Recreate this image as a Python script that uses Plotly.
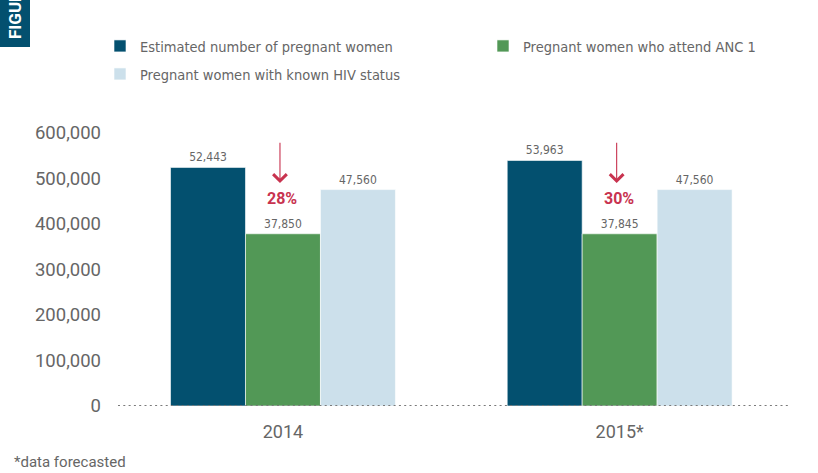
import plotly.graph_objects as go

categories = ["2014", "2015*"]
series_names = [
    "Estimated number of pregnant women",
    "Pregnant women who attend ANC 1",
    "Pregnant women with known HIV status",
]
estimated_heights = [524430, 539630]
anc1_heights = [378500, 378450]
hiv_known_heights = [475600, 475600]
estimated_labels = ["52,443", "53,963"]
anc1_labels = ["37,850", "37,845"]
hiv_known_labels = ["47,560", "47,560"]
gap_pct = ["28%", "30%"]
arrow_tip = [490000, 490000]
arrow_tail = [582000, 582000]
pct_y = [457000, 457000]
y_ticks = [0, 100000, 200000, 300000, 400000, 500000, 600000]
y_tick_text = ["0", "100,000", "200,000", "300,000", "400,000", "500,000", "600,000"]

colors = ["#03506F", "#529856", "#CCE0EB"]
GRAY = "#666666"
RED = "#C8334F"
NARROW = "Liberation Sans Narrow, DejaVu Sans Condensed, Arial Narrow, sans-serif"
MAIN = "Roboto, Arial, sans-serif"

fig = go.Figure()
for name, vals, labs, col, leg in zip(
    series_names,
    [estimated_heights, anc1_heights, hiv_known_heights],
    [estimated_labels, anc1_labels, hiv_known_labels],
    colors,
    ["legend", "legend3", "legend2"],
):
    fig.add_trace(go.Bar(
        x=categories, y=vals, name=name, text=labs,
        textposition="outside", cliponaxis=False,
        textfont=dict(family=NARROW, size=12, color=GRAY),
        marker=dict(color=col, line=dict(color="white", width=0.6)),
        legend=leg,
    ))

for i, (pct, tip, tail, py) in enumerate(zip(gap_pct, arrow_tip, arrow_tail, pct_y)):
    fig.add_annotation(
        x=i, y=tip, ax=i, ay=tail, xref="x", yref="y", axref="x", ayref="y",
        showarrow=True, arrowhead=4, arrowsize=2.4, arrowwidth=1.1, arrowcolor=RED,
        text="", xshift=-3,
    )
    fig.add_annotation(
        x=i, y=py, xref="x", yref="y", text="<b>%s</b>" % pct, showarrow=False,
        font=dict(family=MAIN, size=16, color=RED), xshift=-1,
    )

# dotted baseline
fig.add_shape(type="line", xref="paper", yref="y", x0=0, x1=1, y0=0, y1=0,
              line=dict(color="#7a7a7a", width=2, dash="2px,3.3px"), layer="above")

# figure tab at top-left
fig.add_shape(type="rect", xref="paper", yref="paper", x0=-118/670, x1=-88/670,
              y0=1 + (133 - 47) / 273, y1=1 + 133 / 273 + 0.1,
              fillcolor="#03506F", line=dict(width=0))
fig.add_annotation(text="<b>FIGURE 1</b>", xref="paper", yref="paper",
                   x=-103/670, y=1 + (133 - 41) / 273, xanchor="center", yanchor="bottom",
                   textangle=-90, showarrow=False,
                   font=dict(family=MAIN, size=17, color="white"))

fig.add_annotation(text="*data forecasted", xref="paper", yref="paper",
                   x=-106/670, y=-(462 - 406) / 273, xanchor="left", yanchor="middle",
                   showarrow=False, font=dict(family=MAIN, size=15, color=GRAY))

leg_font = dict(family=NARROW, size=14.5, color=GRAY)
fig.update_layout(
    width=818, height=473,
    margin=dict(l=118, r=30, t=133, b=67),
    plot_bgcolor="white", paper_bgcolor="white",
    barmode="group", bargap=0.332, bargroupgap=0,
    showlegend=True,
    legend=dict(orientation="h", xref="container", yref="container",
                x=100/818, y=1 - 30/473, xanchor="left", yanchor="top",
                font=leg_font, itemclick=False),
    legend3=dict(orientation="h", xref="container", yref="container",
                 x=483/818, y=1 - 30/473, xanchor="left", yanchor="top",
                 font=leg_font, itemclick=False),
    legend2=dict(orientation="h", xref="container", yref="container",
                 x=100/818, y=1 - 58/473, xanchor="left", yanchor="top",
                 font=leg_font, itemclick=False),
    xaxis=dict(range=[-0.49, 1.5], showline=False, showgrid=False, ticks="",
               ticklabelstandoff=13,
               tickfont=dict(family=MAIN, size=18, color=GRAY), fixedrange=True),
    yaxis=dict(range=[0, 600000], tickvals=y_ticks, ticktext=y_tick_text,
               showgrid=False, zeroline=False, showline=False, ticks="",
               ticklabelstandoff=16,
               tickfont=dict(family=MAIN, size=18.5, color=GRAY), fixedrange=True),
)

fig.write_html("out.html", config={"displayModeBar": False},
               post_script="document.body.style.margin='0';")
